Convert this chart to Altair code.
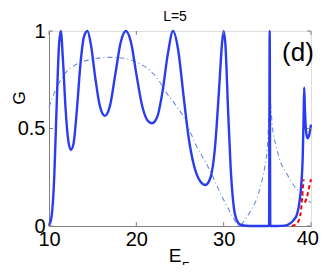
import altair as alt
import pandas as pd

# Solid blue curve (G vs E_F)
solid_x = [10.0, 10.3, 10.6, 10.9, 11.15, 11.35, 11.6, 11.9, 12.2, 12.5, 12.8, 13.2, 13.6, 14.0, 14.4,
           14.8, 15.3, 15.8, 16.4, 17.0, 17.6, 18.2, 18.8, 19.4, 20.0, 20.7, 21.3, 21.8, 22.4, 23.0,
           23.6, 24.2, 24.8, 25.4, 26.0, 26.6, 27.3, 27.9, 28.5, 29.0, 29.5, 29.8, 30.0, 30.2, 30.5,
           30.8, 31.1, 31.5, 32.0, 33.0, 35.2, 35.27, 35.34, 36.0, 37.0, 37.5, 38.0, 38.4, 38.7,
           38.9, 39.05, 39.15, 39.22, 39.3, 39.45, 39.6, 39.75, 40.0]
solid_g = [0.0, 0.05, 0.25, 0.65, 0.93, 1.0, 0.85, 0.6, 0.44, 0.39, 0.42, 0.6, 0.83, 0.97, 1.0,
           0.93, 0.76, 0.62, 0.565, 0.62, 0.78, 0.94, 1.0, 0.94, 0.78, 0.61, 0.54, 0.527, 0.56, 0.69,
           0.88, 1.0, 0.9, 0.67, 0.45, 0.31, 0.23, 0.21, 0.25, 0.4, 0.72, 0.93, 1.0, 0.93, 0.6,
           0.3, 0.12, 0.03, 0.005, 0.0, 0.0, 1.0, 0.0, 0.0, 0.002, 0.01, 0.03, 0.06, 0.13,
           0.22, 0.35, 0.55, 0.71, 0.6, 0.48, 0.45, 0.46, 0.52]

# Dash-dot light blue curve
dd_x = [10.0, 10.5, 11.0, 11.8, 12.8, 14.0, 15.5, 17.0, 18.5, 19.5, 20.5, 21.5, 22.5, 23.5, 24.5,
        25.4, 26.2, 27.0, 27.9, 28.8, 29.6, 30.4, 31.0, 31.8, 32.4, 33.0, 33.7, 34.2, 34.7, 35.0,
        35.3, 35.6, 36.0, 36.5, 37.2, 38.0, 39.0, 39.7, 40.0]
dd_g = [0.61, 0.67, 0.72, 0.78, 0.82, 0.845, 0.86, 0.865, 0.86, 0.85, 0.83, 0.8, 0.75, 0.68, 0.62,
        0.56, 0.48, 0.40, 0.33, 0.25, 0.17, 0.1, 0.05, 0.0, 0.03, 0.07, 0.13, 0.2, 0.3, 0.4,
        0.64, 0.5, 0.41, 0.33, 0.27, 0.21, 0.16, 0.13, 0.12]

# Red dashed curves
red1_x = [37.8, 38.3, 38.7, 38.9, 39.05, 39.15]
red1_g = [0.0, 0.01, 0.04, 0.1, 0.18, 0.24]
red2_x = [39.3, 39.6, 39.85, 40.0]
red2_g = [0.12, 0.16, 0.21, 0.24]

x_ticks = [10, 20, 30, 40]
y_ticks = [0, 0.5, 1]

solid = pd.DataFrame({"E": solid_x, "G": solid_g})
dd = pd.DataFrame({"E": dd_x, "G": dd_g})
red1 = pd.DataFrame({"E": red1_x, "G": red1_g})
red2 = pd.DataFrame({"E": red2_x, "G": red2_g})

xs = alt.Scale(domain=[10, 40], nice=False, zero=False)
ys = alt.Scale(domain=[0, 1], nice=False)
FONT = "Liberation Sans"

# last x label ("40") is drawn separately so it is not clipped at the page edge
xax = alt.Axis(values=x_ticks, title=None, grid=False, tickSize=0, labelFontSize=20,
               labelFont=FONT, labelColor="black", labelPadding=3, domainColor="#808080",
               labelFlush=False, labelExpr="datum.value == 40 ? '' : datum.label")
yax = alt.Axis(values=y_ticks, title=None, grid=False, tickSize=0, labelFontSize=20,
               labelFont=FONT, labelColor="black", labelPadding=4, domainColor="#808080",
               labelExpr="datum.value == 0 ? '0' : datum.value == 1 ? '1' : '0.5'")

base_x = alt.X("E:Q", scale=xs, axis=xax)
base_y = alt.Y("G:Q", scale=ys, axis=yax)

dd_layer = alt.Chart(dd).mark_line(color="#6a8ae0", strokeWidth=1.1,
                                   strokeDash=[5, 3, 1, 3], interpolate="monotone").encode(
    x=base_x, y=base_y)
red1_layer = alt.Chart(red1).mark_line(color="#ff0000", strokeWidth=2,
                                       strokeDash=[4, 3], interpolate="monotone").encode(
    x=alt.X("E:Q", scale=xs), y=alt.Y("G:Q", scale=ys))
red2_layer = alt.Chart(red2).mark_line(color="#ff0000", strokeWidth=2,
                                       strokeDash=[4, 3], interpolate="monotone").encode(
    x=alt.X("E:Q", scale=xs), y=alt.Y("G:Q", scale=ys))
solid_layer = alt.Chart(solid).mark_line(color="#2a3cf2", strokeWidth=2.4,
                                         interpolate="monotone").encode(
    x=alt.X("E:Q", scale=xs), y=alt.Y("G:Q", scale=ys))

# inward tick marks (box style)
tick_rows = []
for v in x_ticks:
    tick_rows.append({"x": v, "x2": v, "y": 0.0, "y2": 0.02})
    tick_rows.append({"x": v, "x2": v, "y": 1.0, "y2": 0.98})
for v in y_ticks:
    tick_rows.append({"x": 10.0, "x2": 10.45, "y": v, "y2": v})
    tick_rows.append({"x": 40.0, "x2": 39.55, "y": v, "y2": v})
ticks = alt.Chart(pd.DataFrame(tick_rows)).mark_rule(color="#808080", strokeWidth=1).encode(
    x=alt.X("x:Q", scale=xs), x2="x2:Q", y=alt.Y("y:Q", scale=ys), y2="y2:Q")

def label(text, x, y, size, angle=0, align="center", baseline="middle"):
    return alt.Chart(pd.DataFrame({"t": [text]})).mark_text(
        font=FONT, fontSize=size, angle=angle, align=align, baseline=baseline, color="black"
    ).encode(text="t:N", x=alt.value(x), y=alt.value(y))

title = label("L=5", 126, -21, 14, baseline="top")
dlabel = label("(d)", 249, 22, 26)
glabel = label("G", -29, 67, 17, angle=270)
elabel = label("E", 126, 231, 19, baseline="alphabetic")
flabel = label("F", 133, 240, 12, align="left", baseline="alphabetic")
last_x = label("40", 270, 198, 20, align="right", baseline="top")

chart = alt.layer(dd_layer, red1_layer, red2_layer, solid_layer, ticks,
                  title, dlabel, glabel, elabel, flabel, last_x).properties(
    width=262, height=195,
    autosize=alt.AutoSizeParams(type="none"),
    padding={"left": 41, "top": 23, "right": 8, "bottom": 39},
).configure_view(stroke="#808080", strokeWidth=1).configure(background="white")

chart.save("out.html", embed_options={"renderer": "svg", "actions": False})
